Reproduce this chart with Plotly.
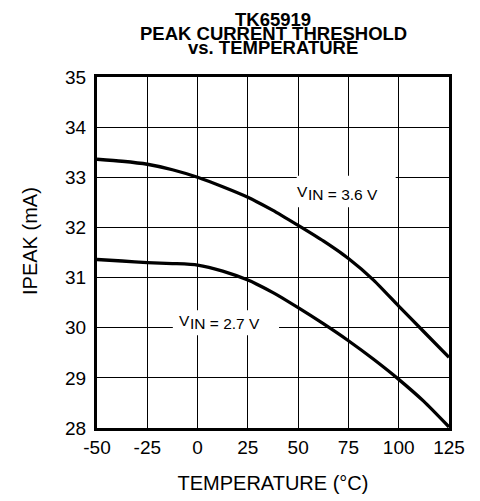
import plotly.graph_objects as go

temps = [-50, -37.5, -25, -12.5, 0, 12.5, 25, 37.5, 50, 62.5, 75, 87.5, 100, 112.5, 125]
i_peak_36 = [33.36, 33.32, 33.26, 33.15, 33.0, 32.81, 32.6, 32.34, 32.04, 31.73, 31.38, 30.95, 30.43, 29.92, 29.41]
i_peak_27 = [31.36, 31.33, 31.30, 31.28, 31.25, 31.13, 30.95, 30.70, 30.40, 30.08, 29.74, 29.37, 28.97, 28.53, 28.02]

x_ticks = [-50, -25, 0, 25, 50, 75, 100, 125]
y_ticks = [28, 29, 30, 31, 32, 33, 34, 35]

title_lines = ["TK65919", "PEAK CURRENT THRESHOLD", "vs. TEMPERATURE"]

FONT = "Liberation Sans, Arial, Helvetica, sans-serif"
W, H = 480, 501
OFF = 8  # page body margin offset
PLOT_L, PLOT_R, PLOT_TOP, PLOT_BOT = 97, 449, 77, 428  # page pixels

def py(pix):
    return (PLOT_BOT - pix) / (PLOT_BOT - PLOT_TOP)

def px(pix):
    return (pix - PLOT_L) / (PLOT_R - PLOT_L)

fig = go.Figure()
for ys in (i_peak_36, i_peak_27):
    fig.add_trace(go.Scatter(
        x=temps, y=ys, mode="lines",
        line=dict(color="black", width=3.3, shape="spline", smoothing=0.6),
        showlegend=False, hoverinfo="skip"))

# white label boxes
fig.add_shape(type="rect", xref="x", yref="y", x0=49.3, x1=98.5, y0=32.4, y1=33.03,
              fillcolor="white", line=dict(width=0), layer="above")
fig.add_shape(type="rect", xref="x", yref="y", x0=-12.3, x1=40.5, y0=29.85, y1=30.35,
              fillcolor="white", line=dict(width=0), layer="above")

def vin_label(xv, yv, val):
    fig.add_annotation(x=xv, y=yv, xref="x", yref="y", text="V", showarrow=False,
                       xanchor="right", font=dict(family=FONT, size=15.5, color="black"), xshift=2)
    fig.add_annotation(x=xv, y=yv, xref="x", yref="y", text="IN = %s V" % val, showarrow=False,
                       xanchor="left", font=dict(family=FONT, size=15.5, color="black"), xshift=-2, yshift=-3)

vin_label(55.0, 32.72, "3.6")
vin_label(-3.7, 30.15, "2.7")

for t, yy in zip(title_lines, [19, 33.5, 48]):
    fig.add_annotation(x=px(273), xref="paper", y=py(yy), yref="paper", yanchor="middle",
                       text="<b>%s</b>" % t, showarrow=False,
                       font=dict(family=FONT, size=18.5, color="black"))

# y-axis title as rotated annotation
fig.add_annotation(x=px(30), xref="paper", xanchor="center", y=py(241), yref="paper", yanchor="middle",
                   text="IPEAK (mA)", textangle=-90, showarrow=False,
                   font=dict(family=FONT, size=20, color="black"))

fig.update_layout(
    width=W, height=H,
    margin=dict(l=PLOT_L - OFF, r=W - (PLOT_R - OFF), t=PLOT_TOP - OFF, b=H - (PLOT_BOT - OFF),
                autoexpand=False),
    paper_bgcolor="white", plot_bgcolor="white",
    font=dict(family=FONT, size=19, color="black"),
)
fig.update_xaxes(range=[-50, 125], tickvals=x_ticks, ticktext=[str(v) for v in x_ticks],
                 showgrid=True, gridcolor="black", gridwidth=1, automargin=False,
                 showline=True, linecolor="black", linewidth=3, mirror=True,
                 zeroline=False, ticks="", ticklabelstandoff=0,
                 title=dict(text="TEMPERATURE (°C)", font=dict(size=20), standoff=20))
fig.update_yaxes(range=[28, 35], tickvals=y_ticks, ticktext=[str(v) for v in y_ticks],
                 showgrid=True, gridcolor="black", gridwidth=1, automargin=False,
                 showline=True, linecolor="black", linewidth=3, mirror=True,
                 zeroline=False, ticks="", ticklabelstandoff=4)

fig.write_html("out.html")
